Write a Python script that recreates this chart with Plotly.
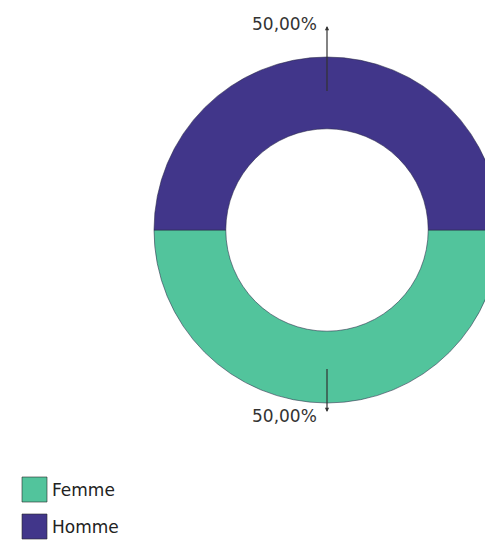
import math
import plotly.graph_objects as go

# ---- data ----
labels = ["Femme", "Homme"]
values = [50, 50]
colors = ["#52c49c", "#41368a"]

# ---- geometry / style (pixels) ----
W, H = 520, 540
CX, CY, R = 327, 230, 173
HOLE = 0.585
label_r = [182, 204]       # radius of arrow tip for each slice
FONT = "DejaVu Sans"


def px(x):
    return x / W


def py(y):
    return 1 - y / H


fig = go.Figure(go.Pie(
    labels=labels, values=values, hole=HOLE, sort=False,
    direction="clockwise", rotation=90,
    marker=dict(colors=colors, line=dict(color="rgba(40,40,70,0.55)", width=1)),
    textinfo="none", hoverinfo="label+percent",
    domain=dict(x=[px(CX - R), px(CX + R)], y=[py(CY + R), py(CY - R)]),
    showlegend=False,
))

annotations = []
shapes = []
total = sum(values)
start = 0.0  # degrees clockwise from 3 o'clock
r_mid = (R + HOLE * R) / 2
for i, v in enumerate(values):
    mid = start + v / total * 360 / 2
    start += v / total * 360
    a = math.radians(mid)
    dx, dy = math.cos(a), math.sin(a)  # screen coords (y down)
    tipx, tipy = CX + dx * label_r[i], CY + dy * label_r[i]
    tailx, taily = CX + dx * r_mid, CY + dy * r_mid
    annotations.append(dict(
        x=px(tipx), y=py(tipy), xref="paper", yref="paper",
        ax=tailx - tipx, ay=taily - tipy, text=" ", font=dict(size=1),
        showarrow=True, arrowhead=2, arrowsize=0.7, arrowwidth=1.2,
        arrowcolor="#333333",
    ))
    pct = f"{v / total * 100:.2f}".replace(".", ",") + "%"
    annotations.append(dict(
        x=px(tipx - 8), y=py(tipy + (4 if dy > 0 else -2)),
        xref="paper", yref="paper", xanchor="right", yanchor="middle",
        text=pct, showarrow=False,
        font=dict(family=FONT, size=17, color="#333333"),
    ))

# legend (manual, larger swatches)
LX, LY0, LSTEP, LS = 22, 477, 37, 25
for i, (lab, col) in enumerate(zip(labels, colors)):
    y0 = LY0 + i * LSTEP
    shapes.append(dict(
        type="rect", xref="paper", yref="paper",
        x0=px(LX), x1=px(LX + LS), y0=py(y0 + LS), y1=py(y0),
        fillcolor=col, line=dict(color="rgba(40,40,40,0.6)", width=1),
    ))
    annotations.append(dict(
        x=px(LX + LS + 3), y=py(y0 + LS / 2), xref="paper", yref="paper",
        xanchor="left", yanchor="middle", text=lab, showarrow=False,
        font=dict(family=FONT, size=17, color="#222222"),
    ))

fig.update_layout(
    width=W, height=H, margin=dict(l=0, r=0, t=0, b=0),
    paper_bgcolor="white", plot_bgcolor="white",
    annotations=annotations, shapes=shapes,
)

fig.write_html(
    "out.html",
    config={"displayModeBar": False},
    post_script="document.body.style.margin='0';document.body.style.overflow='hidden';document.documentElement.style.overflow='hidden';",
)
